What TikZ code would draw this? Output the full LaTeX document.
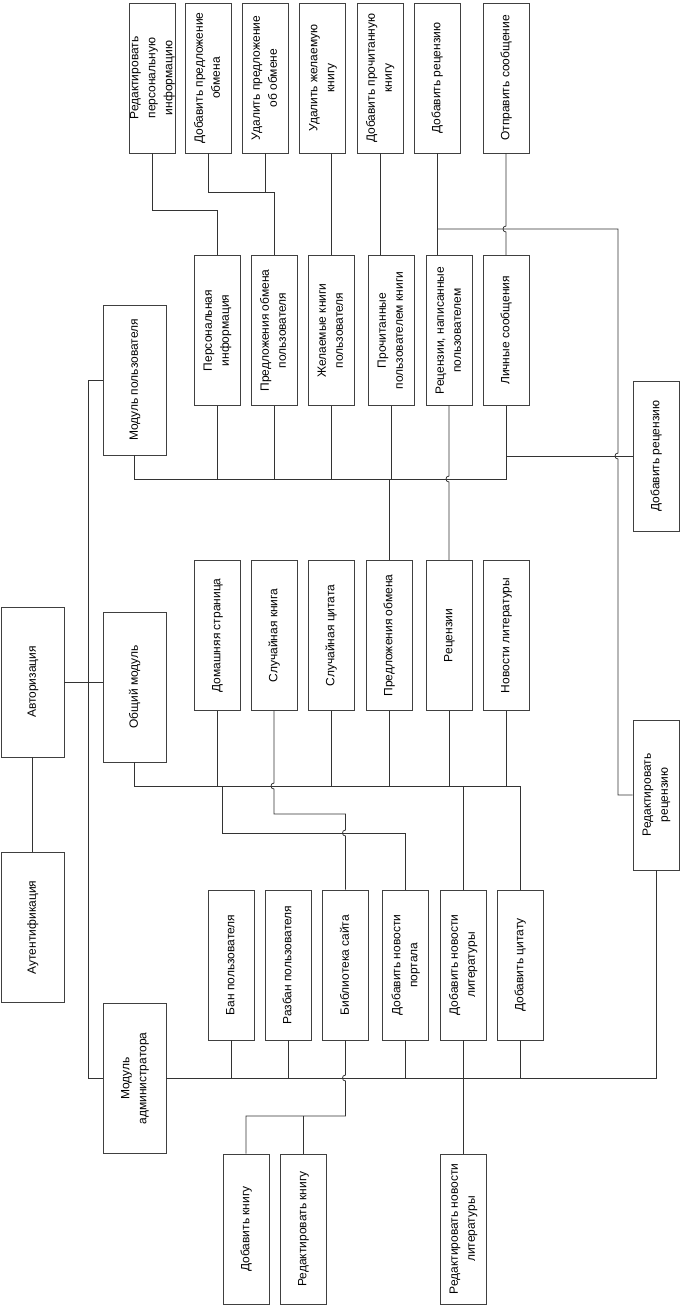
\documentclass[tikz,border=0pt]{standalone}
\usepackage{fontspec}
\setmainfont{Liberation Sans}
\usepackage{graphicx}
\newcommand\vt[1]{\makebox[0pt]{\rotatebox{90}{\begin{tabular}{@{}c@{}}#1\end{tabular}}}}
\begin{document}
\begin{tikzpicture}[x=1pt,y=-1pt,
        bsty/.style={rectangle,draw=black!75,line width=0.8pt,fill=white,inner sep=0pt,
            minimum width=46pt,minimum height=150pt,font={\fontsize{12}{17}\selectfont}},
        msty/.style={bsty,minimum width=63pt},
        lsty/.style={draw=black!80,line width=0.8pt},
        hop/.style 2 args={insert path={-- (#1,#2-3) .. controls (#1-4,#2-3) and (#1-4,#2+3) .. (#1,#2+3)}},
    ]
    \useasboundingbox (0,0) rectangle (680,1306);
    % left column and modules
    \node (auth) at (32.5,682) [msty] {\vt{Авторизация}};
    \node (authn) at (32.5,927.5) [msty] {\vt{Аутентификация}};
    \node (muser) at (134.5,380) [msty] {\vt{Модуль пользователя}};
    \node (mcommon) at (134.5,687) [msty] {\vt{Общий модуль}};
    \node (madmin) at (134.5,1078.5) [msty] {\vt{Модуль\\администратора}};
    % top row
    \node (t1) at (152,78) [bsty] {\vt{Редактировать\\персональную\\информацию}};
    \node (t2) at (208,78) [bsty] {\vt{Добавить предложение\\обмена}};
    \node (t3) at (265,78) [bsty] {\vt{Удалить предложение\\об обмене}};
    \node (t4) at (322.5,78) [bsty] {\vt{Удалить желаемую\\книгу}};
    \node (t5) at (380,78) [bsty] {\vt{Добавить прочитанную\\книгу}};
    \node (t6) at (437,78) [bsty] {\vt{Добавить рецензию}};
    \node (t7) at (506,78) [bsty] {\vt{Отправить сообщение}};
    % user module
    \node (u1) at (217,330.5) [bsty] {\vt{Персональная\\информация}};
    \node (u2) at (274,330.5) [bsty] {\vt{Предложения обмена\\пользователя}};
    \node (u3) at (331,330.5) [bsty] {\vt{Желаемые книги\\пользователя}};
    \node (u4) at (391,330.5) [bsty] {\vt{Прочитанные\\пользователем книги}};
    \node (u5) at (449,330.5) [bsty] {\vt{Рецензии, написанные\\пользователем}};
    \node (u6) at (506,330.5) [bsty] {\vt{Личные сообщения}};
    % common module
    \node (c1) at (217,635.5) [bsty] {\vt{Домашняя страница}};
    \node (c2) at (274,635.5) [bsty] {\vt{Случайная книга}};
    \node (c3) at (331,635.5) [bsty] {\vt{Случайная цитата}};
    \node (c4) at (389,635.5) [bsty] {\vt{Предложения обмена}};
    \node (c5) at (449,635.5) [bsty] {\vt{Рецензии}};
    \node (c6) at (506,635.5) [bsty] {\vt{Новости литературы}};
    % admin module
    \node (a1) at (231,965) [bsty] {\vt{Бан пользователя}};
    \node (a2) at (288,965) [bsty] {\vt{Разбан пользователя}};
    \node (a3) at (345.5,965) [bsty] {\vt{Библиотека сайта}};
    \node (a4) at (405.5,965) [bsty] {\vt{Добавить новости\\портала}};
    \node (a5) at (463,965) [bsty] {\vt{Добавить новости\\литературы}};
    \node (a6) at (520,965) [bsty] {\vt{Добавить цитату}};
    \node (b1) at (246,1229) [bsty] {\vt{Добавить книгу}};
    \node (b2) at (303,1229) [bsty] {\vt{Редактировать книгу}};
    \node (b3) at (463,1229) [bsty] {\vt{Редактировать новости\\литературы}};
    % reviews
    \node (r1) at (656,456) [bsty] {\vt{Добавить рецензию}};
    \node (r2) at (656,795) [bsty] {\vt{Редактировать\\рецензию}};

    \draw[lsty] (auth.south) -- (authn.north);
    \draw[lsty] (muser.west) -- ++(-14,0) |- (madmin.west);
    \draw[lsty] (auth.east) -- (mcommon.west |- auth.east);

    \draw[lsty] (t1.south) -- (t1.south |- 0,210) -| (u1.north);
    \draw[lsty] (t2.south) -- (t2.south |- 0,192) -| (u2.north);
    \draw[lsty] (t3.south) -- (t3.south |- 0,192);
    \draw[lsty] (u3.north) -- (u3.north |- t4.south);
    \draw[lsty] (t5.south) -- (t5.south |- u4.north);
    \draw[lsty] (t6.south) -- (t6.south |- u5.north);
    \draw[lsty] (t6.south |- 0,229) -- (618,229) [hop={618}{456}] |- (r2.west);
    \draw[lsty] (t7.south) [hop={506}{229}] -- (u6.north);

    \draw[lsty] (muser.south) -- (muser.south |- 0,479) -| (u6.south);
    \foreach \n in {u1,u2,u3,u4}{
        \draw[lsty] (\n.south) -- (\n.south |- 0,479);
    }
    \draw[lsty] (c4.north) -- (c4.north |- 0,479);
    \draw[lsty] (u6.south |- r1.west) -- (r1.west);
    \draw[lsty] (u5.south) [hop={449}{479}] -- (c5.north);

    \draw[lsty] (mcommon.south) |- (a6.north |- 0,786) -- (a6.north);
    \foreach \n in {c1,c3,c4,c5,c6}{
        \draw[lsty] (\n.south) -- (\n.south |- 0,786);
    }
    \draw[lsty] (a5.north) -- (a5.north |- 0,786);
    \draw[lsty] ([xshift=5pt]c1.south |- 0,786) |- (a4.north |- 0,833) -- (a4.north);
    \draw[lsty] (c2.south) [hop={274}{786}] |- (a3.north |- 0,814) [hop={345.5}{833}] -- (a3.north);

    \draw[lsty] (madmin.east) -| (r2.south);
    \foreach \n in {a1,a2,a4,a6}{
        \draw[lsty] (\n.south) -- (\n.south |- 0,1078);
    }
    \draw[lsty] (a5.south) -- (b3.north);
    \draw[lsty] (a3.south) [hop={345.5}{1078}] |- (b1.north |- 0,1116) -- (b1.north);
    \draw[lsty] (b2.north) -- (b2.north |- 0,1116);
\end{tikzpicture}
\end{document}
